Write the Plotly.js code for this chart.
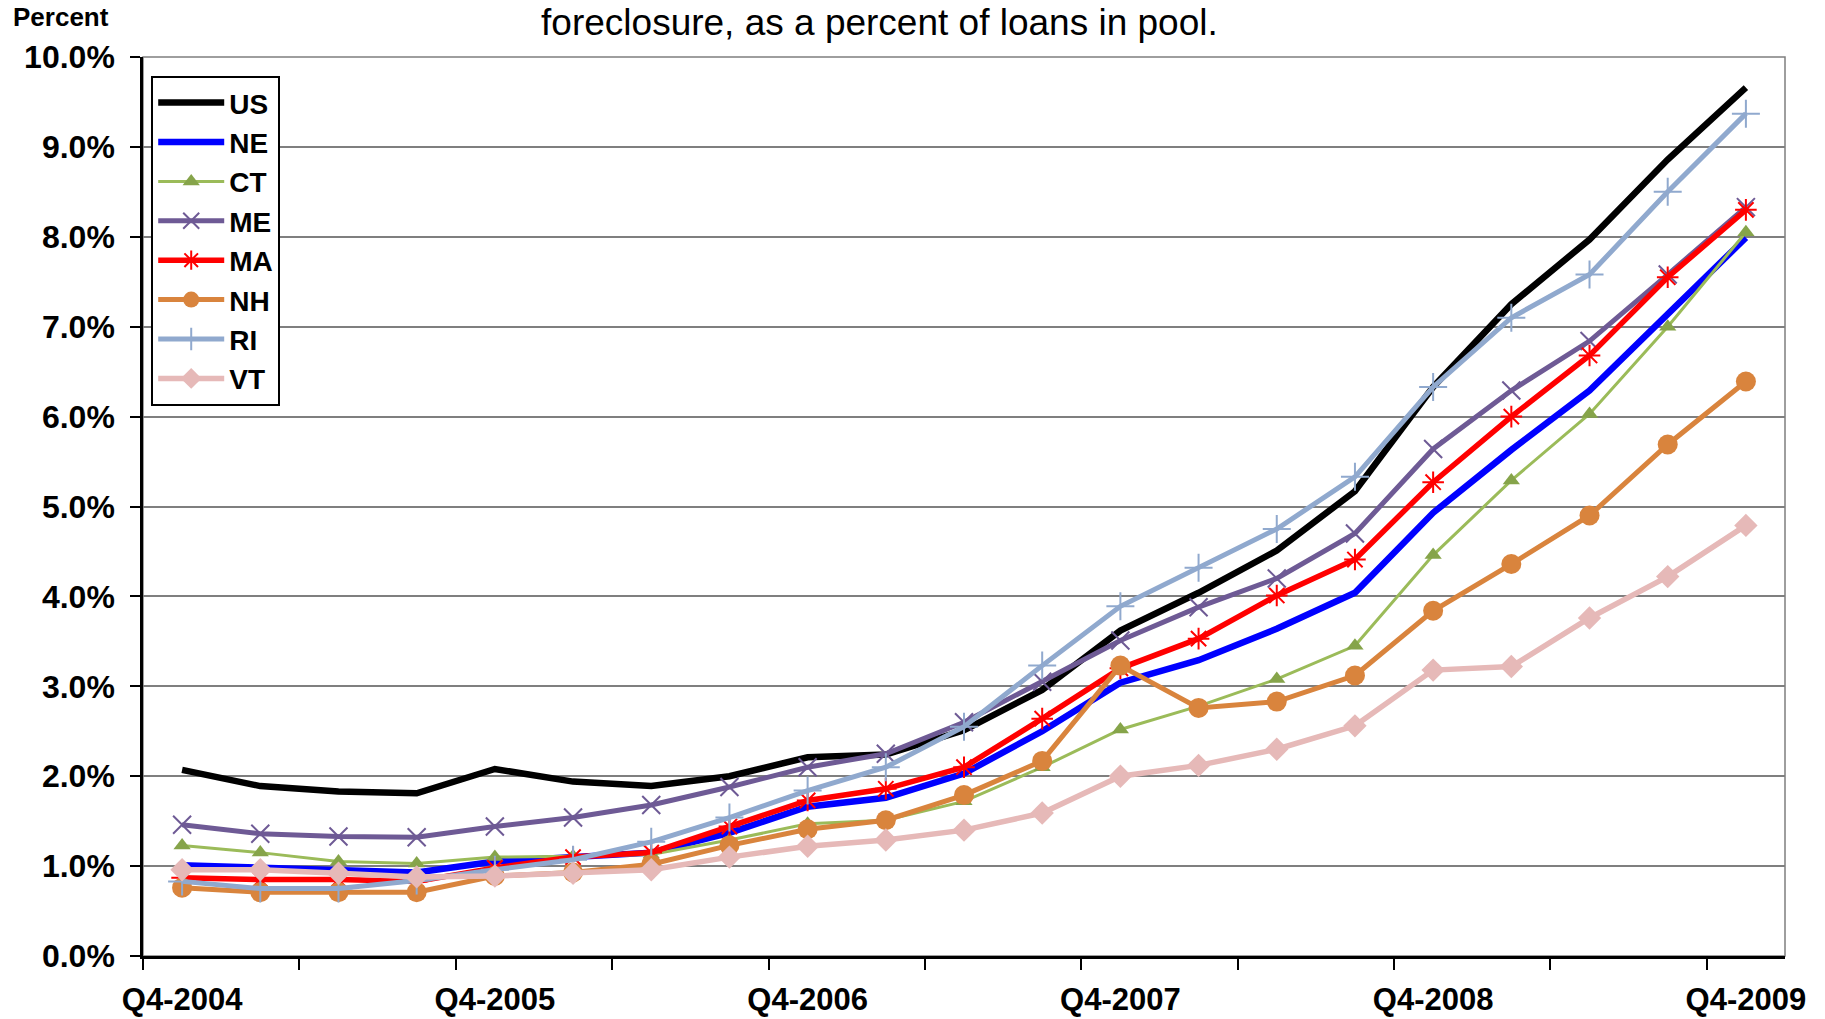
<!DOCTYPE html>
<html>
<head>
<meta charset="utf-8">
<script src="https://cdn.plot.ly/plotly-3.0.1.min.js"></script>
<style>
  html, body { margin: 0; padding: 0; background: #fff; }
  #chart { width: 1825px; height: 1019px; }
</style>
</head>
<body>
<div id="chart"></div>
<script>
// ---- Data (percent of loans in pool, in foreclosure) ----
const quarters = [
  "Q4-2004","Q1-2005","Q2-2005","Q3-2005",
  "Q4-2005","Q1-2006","Q2-2006","Q3-2006",
  "Q4-2006","Q1-2007","Q2-2007","Q3-2007",
  "Q4-2007","Q1-2008","Q2-2008","Q3-2008",
  "Q4-2008","Q1-2009","Q2-2009","Q3-2009",
  "Q4-2009"
];
const US = [2.07,1.89,1.83,1.81,2.08,1.94,1.89,2.00,2.21,2.24,2.51,2.96,3.62,4.04,4.51,5.17,6.33,7.25,7.97,8.86,9.66];
const NE = [1.01,0.98,0.96,0.93,1.05,1.10,1.15,1.37,1.66,1.76,2.03,2.50,3.04,3.29,3.64,4.04,4.93,5.63,6.29,7.14,7.99];
const CT = [1.23,1.15,1.05,1.03,1.10,1.11,1.13,1.29,1.47,1.51,1.72,2.10,2.52,2.78,3.08,3.45,4.46,5.29,6.03,7.00,8.05];
const ME = [1.46,1.36,1.33,1.32,1.44,1.54,1.68,1.88,2.10,2.25,2.60,3.05,3.51,3.88,4.20,4.70,5.64,6.29,6.84,7.58,8.33];
const MA = [0.87,0.85,0.85,0.83,0.98,1.10,1.15,1.44,1.73,1.86,2.10,2.64,3.20,3.53,4.01,4.41,5.27,6.00,6.68,7.55,8.30];
const NH = [0.76,0.71,0.71,0.71,0.89,0.93,1.02,1.23,1.41,1.51,1.79,2.17,3.23,2.76,2.83,3.12,3.84,4.36,4.90,5.69,6.39];
const RI = [0.83,0.75,0.75,0.84,0.96,1.07,1.27,1.54,1.84,2.10,2.55,3.23,3.89,4.32,4.75,5.33,6.33,7.10,7.58,8.50,9.37];
const VT = [0.96,0.96,0.92,0.88,0.89,0.92,0.96,1.10,1.22,1.29,1.40,1.59,2.00,2.12,2.30,2.56,3.18,3.22,3.76,4.22,4.79];
const yTickVals = [0,1,2,3,4,5,6,7,8,9,10];
const yTickText = ["0.0%","1.0%","2.0%","3.0%","4.0%","5.0%","6.0%","7.0%","8.0%","9.0%","10.0%"];
const labelEvery = 4;
const titleText = "foreclosure, as a percent of loans in pool.";
const yLabel = "Percent";

// ---- Build ----
const idx = quarters.map((_, i) => i);
const labelVals = idx.filter(i => i % labelEvery === 0);
const labelText = labelVals.map(i => quarters[i]);
const tickMarks = [];
for (let i = 0; i < quarters.length; i += 2) tickMarks.push(i - 0.5);

const FONT = '"Liberation Sans", Arial, Helvetica, sans-serif';

function tr(name, y, color, width, marker) {
  const t = {
    type: 'scatter', name: name, x: idx, y: y, text: quarters,
    mode: marker ? 'lines+markers' : 'lines',
    line: { color: color, width: width },
    hovertemplate: '%{text}: %{y:.2f}%<extra>' + name + '</extra>'
  };
  if (marker) t.marker = marker;
  return t;
}

const traces = [
  tr('US', US, '#000000', 6.5),
  tr('NE', NE, '#0000FF', 6.5),
  tr('CT', CT, '#9BBB59', 3, { symbol: 'triangle-up', size: 15, color: '#86A44A' }),
  tr('ME', ME, '#6E5A95', 5, { symbol: 'x-thin-open', size: 18, color: '#6E5A95', line: { color: '#6E5A95', width: 2 } }),
  tr('MA', MA, '#FF0000', 5.5, { symbol: 'asterisk-open', size: 18, color: '#FF0000', line: { color: '#FF0000', width: 2 } }),
  tr('NH', NH, '#D9843D', 5, { symbol: 'circle', size: 20, color: '#D9843D' }),
  tr('RI', RI, '#90A9CE', 5, { symbol: 'cross-thin-open', size: 20, color: '#90A9CE', line: { color: '#90A9CE', width: 2 } }),
  tr('VT', VT, '#E6B9B8', 5.5, { symbol: 'diamond', size: 18, color: '#E6B9B8' })
];

const layout = {
  width: 1825, height: 1019,
  paper_bgcolor: '#ffffff', plot_bgcolor: '#ffffff',
  margin: { l: 143, r: 40, t: 57, b: 63, pad: 0 },
  font: { family: FONT, color: '#000000' },
  showlegend: true,
  title: {
    text: titleText,
    font: { family: FONT, size: 37, color: '#000000' },
    xref: 'paper', x: 0.4485, xanchor: 'center',
    yref: 'container', y: 0.9785, yanchor: 'middle'
  },
  legend: {
    x: 0.005, xanchor: 'left', y: 0.979, yanchor: 'top',
    bgcolor: '#ffffff', bordercolor: '#000000', borderwidth: 2,
    font: { family: FONT, size: 28, color: '#000000', weight: 'bold' },
    itemwidth: 66, tracegroupgap: 0
  },
  xaxis: {
    range: [-0.5, quarters.length - 0.5],
    tickmode: 'array', tickvals: labelVals, ticktext: labelText,
    ticks: '', ticklabelstandoff: 14,
    tickfont: { family: FONT, size: 31, color: '#000000', weight: 'bold' },
    showgrid: false, zeroline: false,
    showline: true, linecolor: '#000000', linewidth: 3,
    minor: { tickmode: 'array', tickvals: tickMarks, ticks: 'outside', ticklen: 11, tickwidth: 2, tickcolor: '#000000', showgrid: false },
    fixedrange: true
  },
  yaxis: {
    range: [0, 10],
    tickmode: 'array', tickvals: yTickVals, ticktext: yTickText,
    ticks: 'outside', ticklen: 10, tickwidth: 2, tickcolor: '#000000',
    ticklabelstandoff: 9,
    tickfont: { family: FONT, size: 32, color: '#000000', weight: 'bold' },
    showgrid: true, gridcolor: '#7F7F7F', gridwidth: 1.5,
    zeroline: false,
    showline: true, linecolor: '#000000', linewidth: 2.5,
    fixedrange: true
  },
  shapes: [
    { type: 'rect', xref: 'paper', yref: 'paper', x0: 0, x1: 1, y0: 0, y1: 1,
      line: { color: '#7F7F7F', width: 1.5 }, layer: 'below' }
  ],
  annotations: [
    { text: yLabel, xref: 'paper', yref: 'paper', x: -0.0805, y: 1.044,
      xanchor: 'left', yanchor: 'middle', showarrow: false,
      font: { family: FONT, size: 26, color: '#000000', weight: 'bold' } }
  ]
};

Plotly.newPlot('chart', traces, layout, { displayModeBar: false, staticPlot: false });
</script>
</body>
</html>
